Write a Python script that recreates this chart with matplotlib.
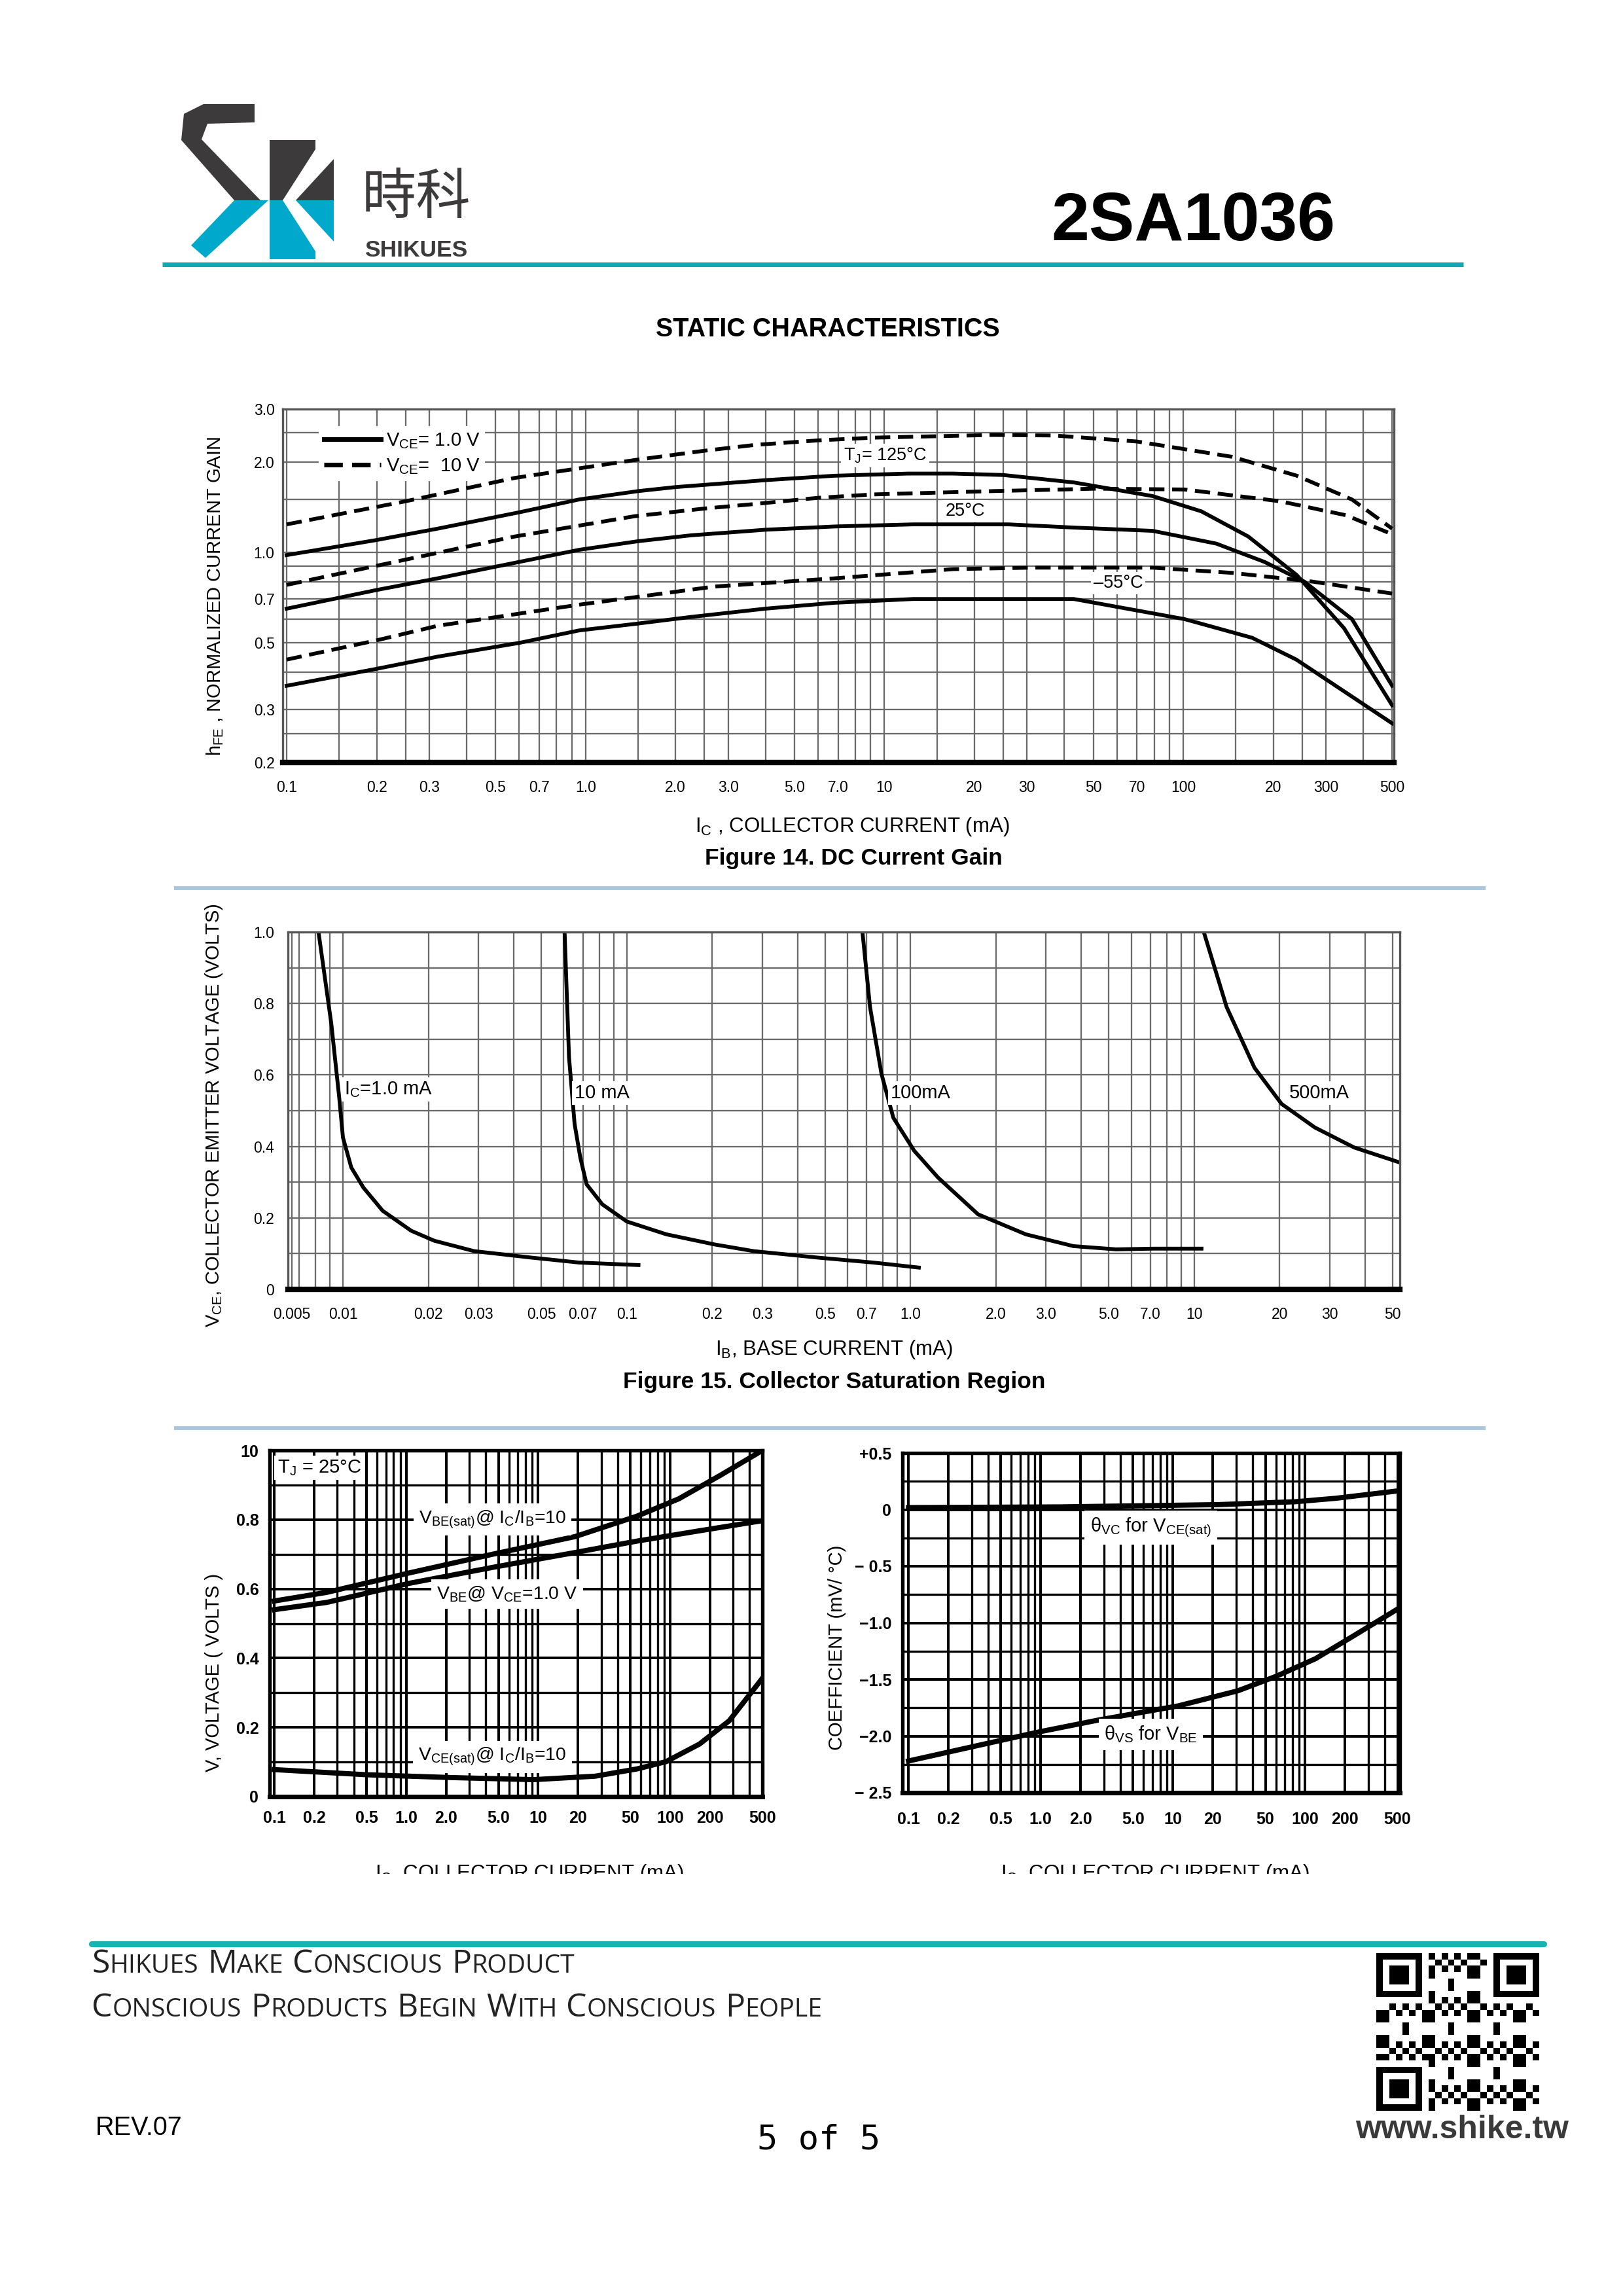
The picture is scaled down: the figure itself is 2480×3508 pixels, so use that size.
import numpy as np
import matplotlib
matplotlib.use("Agg")
import matplotlib.pyplot as plt
from matplotlib.lines import Line2D
from matplotlib.patches import Polygon, Rectangle
from matplotlib.ticker import FixedLocator, FixedFormatter, LogLocator, NullFormatter
from matplotlib.offsetbox import TextArea, HPacker, AnchoredOffsetbox

plt.rcParams['font.family'] = ['Liberation Sans', 'DejaVu Sans']
plt.rcParams['mathtext.fontset'] = 'custom'
plt.rcParams['mathtext.rm'] = 'Liberation Sans'
plt.rcParams['mathtext.it'] = 'Liberation Sans:italic'
plt.rcParams['mathtext.bf'] = 'Liberation Sans:bold'
plt.rcParams['mathtext.default'] = 'regular'

W, H = 2480, 3508

# ---- Figure 14: DC current gain (IC mA, normalized hFE)
s125_x = [0.1, 0.2, 0.32, 0.6, 0.95, 1.5, 2.0, 4.0, 6.8, 12, 17, 25, 43, 79, 115, 165, 240, 345, 500]
s125_y = [0.98, 1.10, 1.20, 1.36, 1.50, 1.60, 1.65, 1.74, 1.80, 1.83, 1.83, 1.81, 1.71, 1.54, 1.37, 1.13,
          0.84, 0.56, 0.31]
d125_x = [0.1, 0.25, 0.58, 1.46, 2.5, 3.7, 6.0, 9.2, 23, 37, 70, 146, 240, 367, 500]
d125_y = [1.24, 1.48, 1.77, 2.03, 2.18, 2.28, 2.36, 2.41, 2.46, 2.45, 2.34, 2.08, 1.80, 1.50, 1.20]
s25_x = [0.1, 0.2, 0.32, 0.6, 0.95, 1.5, 2.25, 4.0, 6.8, 12.5, 26, 43, 79, 129, 187, 254, 367, 500]
s25_y = [0.65, 0.75, 0.82, 0.93, 1.02, 1.09, 1.14, 1.19, 1.22, 1.24, 1.24, 1.21, 1.18, 1.07, 0.93, 0.80,
         0.60, 0.36]
d25_x = [0.1, 0.23, 0.58, 1.46, 2.5, 3.7, 6.0, 9.2, 23, 51, 101, 211, 350, 500]
d25_y = [0.78, 0.93, 1.13, 1.32, 1.40, 1.45, 1.52, 1.56, 1.60, 1.63, 1.62, 1.48, 1.33, 1.15]
s55_x = [0.1, 0.2, 0.32, 0.6, 0.95, 1.5, 2.25, 4.0, 6.8, 12.5, 43, 101, 170, 239, 500]
s55_y = [0.36, 0.41, 0.45, 0.50, 0.55, 0.58, 0.61, 0.65, 0.68, 0.70, 0.70, 0.60, 0.52, 0.44, 0.27]
d55_x = [0.1, 0.2, 0.32, 0.95, 2.7, 6.8, 17, 31, 79, 146, 270, 500]
d55_y = [0.44, 0.51, 0.57, 0.67, 0.77, 0.82, 0.88, 0.89, 0.89, 0.855, 0.80, 0.73]
f14_xticks = [0.1, 0.2, 0.3, 0.5, 0.7, 1.0, 2.0, 3.0, 5.0, 7.0, 10, 20, 30, 50, 70, 100, 200, 300, 500]
f14_xlabels = ['0.1', '0.2', '0.3', '0.5', '0.7', '1.0', '2.0', '3.0', '5.0', '7.0', '10', '20', '30',
               '50', '70', '100', '20', '300', '500']
f14_yticks = [0.2, 0.3, 0.5, 0.7, 1.0, 2.0, 3.0]
f14_ylabels = ['0.2', '0.3', '0.5', '0.7', '1.0', '2.0', '3.0']

# ---- Figure 15: collector saturation region (IB mA, VCE volts)
ic1_x = [0.0082, 0.0091, 0.0097, 0.0100, 0.0107, 0.0118, 0.0138, 0.0174, 0.021, 0.029, 0.046, 0.068, 0.11]
ic1_y = [1.0, 0.743, 0.537, 0.425, 0.341, 0.285, 0.22, 0.164, 0.136, 0.107, 0.089, 0.075, 0.068]
ic10_x = [0.0604, 0.0626, 0.0655, 0.0686, 0.0722, 0.082, 0.10, 0.138, 0.203, 0.28, 0.47, 0.74, 1.07]
ic10_y = [1.0, 0.65, 0.463, 0.369, 0.294, 0.238, 0.19, 0.154, 0.126, 0.107, 0.089, 0.075, 0.061]
ic100_x = [0.677, 0.72, 0.79, 0.87, 1.03, 1.25, 1.73, 2.55, 3.75, 5.3, 7.2, 10.6]
ic100_y = [1.0, 0.79, 0.603, 0.48, 0.388, 0.313, 0.21, 0.154, 0.121, 0.112, 0.114, 0.114]
ic500_x = [10.8, 13, 16.3, 20.3, 26.6, 36.6, 53]
ic500_y = [1.0, 0.79, 0.62, 0.519, 0.453, 0.397, 0.355]
f15_xticks = [0.0066, 0.01, 0.02, 0.03, 0.05, 0.07, 0.1, 0.2, 0.3, 0.5, 0.7, 1.0, 2.0, 3.0, 5.0, 7.0,
              10, 20, 30, 50]
f15_xlabels = ['0.005', '0.01', '0.02', '0.03', '0.05', '0.07', '0.1', '0.2', '0.3', '0.5', '0.7', '1.0',
               '2.0', '3.0', '5.0', '7.0', '10', '20', '30', '50']
f15_yticks = [0, 0.2, 0.4, 0.6, 0.8, 1.0]
f15_ylabels = ['0', '0.2', '0.4', '0.6', '0.8', '1.0']

# ---- Figure 16: "on" voltages (IC mA, V volts)
vbesat_x = [0.1, 0.25, 1.05, 4.5, 19, 56, 116, 240, 500]
vbesat_y = [0.565, 0.59, 0.646, 0.70, 0.751, 0.81, 0.86, 0.928, 1.0]
vbe_x = [0.1, 0.25, 1.05, 4.5, 19, 56, 168, 500]
vbe_y = [0.54, 0.561, 0.616, 0.662, 0.705, 0.738, 0.768, 0.797]
vcesat_x = [0.1, 0.51, 2.2, 9.2, 27, 56, 93, 167, 280, 500]
vcesat_y = [0.078, 0.063, 0.055, 0.049, 0.059, 0.08, 0.101, 0.152, 0.219, 0.342]
f16_yticks = [0, 0.2, 0.4, 0.6, 0.8, 1.0]
f16_ylabels = ['0', '0.2', '0.4', '0.6', '0.8', '10']

# ---- Figure 17: temperature coefficients (IC mA, mV/°C)
tvc_x = [0.1, 1.4, 22, 85, 170, 500]
tvc_y = [0.018, 0.024, 0.044, 0.07, 0.10, 0.165]
tvs_x = [0.1, 0.36, 1.0, 2.8, 11, 31, 61, 120, 236, 500]
tvs_y = [-2.22, -2.075, -1.96, -1.856, -1.733, -1.60, -1.47, -1.316, -1.11, -0.878]
f17_yticks = [0.5, 0, -0.5, -1.0, -1.5, -2.0, -2.5]
f17_ylabels = ['+0.5', '0', '\u2212 0.5', '\u22121.0', '\u22121.5', '\u22122.0', '\u2212 2.5']

bot_xticks = [0.1, 0.2, 0.5, 1.0, 2.0, 5.0, 10, 20, 50, 100, 200, 500]
bot_xlabels = ['0.1', '0.2', '0.5', '1.0', '2.0', '5.0', '10', '20', '50', '100', '200', '500']


def fx(px):
    return px / W


def fy(py):
    return 1 - py / H


def box(l, t, r, b):
    return [fx(l), fy(b), (r - l) / W, (b - t) / H]


def hline(x0, x1, y, color, lw, cap='butt'):
    fig.add_artist(Line2D([fx(x0), fx(x1)], [fy(y), fy(y)], transform=fig.transFigure,
                          color=color, lw=lw, solid_capstyle=cap))


def ftext(px, py, s, **kw):
    fig.text(fx(px), fy(py), s, ha=kw.pop('ha', 'center'), va=kw.pop('va', 'center'), **kw)


def poly(pts, color):
    fig.add_artist(Polygon([(fx(a), fy(b)) for a, b in pts], closed=True, transform=fig.transFigure,
                           facecolor=color, edgecolor='none'))


def small_caps(px, py, s, big=12.0, small=9.4):
    words = []
    for word in s.split(' '):
        parts = []
        for ch in word:
            up = ch.isupper()
            if parts and parts[-1][1] == up:
                parts[-1][0] += ch
            else:
                parts.append([ch, up])
        words.append(HPacker(children=[TextArea(t.upper(), textprops=dict(
            size=big if up else small, family='Open Sans', color='#222222')) for t, up in parts],
            align='baseline', pad=0, sep=0))
    pack = HPacker(children=words, align='baseline', pad=0, sep=3.4)
    fig.add_artist(AnchoredOffsetbox(loc='center left', child=pack, bbox_to_anchor=(fx(px), fy(py)),
                                     bbox_transform=fig.transFigure, frameon=False, pad=0, borderpad=0))


fig = plt.figure(figsize=(W / 300, H / 300), dpi=300)

# ---- header
dark, cyan = '#3c3a3b', '#00a8cc'
poly([(311, 159), (389, 159), (389, 187), (317, 189), (308, 213), (398, 306), (358, 306), (277, 214),
      (281, 174)], dark)
poly([(358, 306), (410, 306), (314, 394), (292, 375)], cyan)
poly([(412, 214), (482, 214), (482, 228), (432, 306), (412, 306)], dark)
poly([(510, 243), (510, 306), (452, 306)], dark)
poly([(412, 306), (432, 306), (482, 384), (482, 396), (412, 396)], cyan)
poly([(452, 306), (510, 306), (510, 369)], cyan)
ftext(636, 302, '時科', size=20, color=dark, family=['Noto Sans CJK TC', 'DejaVu Sans'])
ftext(636, 383, 'SHIKUES', size=8.5, weight='bold', color=dark)
ftext(1823, 340, '2SA1036', size=25, weight='bold', color='black')
hline(248, 2236, 404, '#15a6b3', 1.7)
ftext(1265, 503, 'STATIC CHARACTERISTICS', size=9.5, weight='bold')

# separators between figures
hline(266, 2270, 1357, '#a8c6dc', 1.4)
hline(266, 2270, 2182, '#a8c6dc', 1.4)


def light_frame(ax):
    for side in ['left', 'top', 'right']:
        ax.spines[side].set_color('#555555')
        ax.spines[side].set_linewidth(0.8)
    ax.spines['bottom'].set_color('black')
    ax.spines['bottom'].set_linewidth(2.0)
    ax.tick_params(which='both', length=0, labelsize=5.5)
    ax.grid(which='both', color='#6a6a6a', lw=0.55)
    ax.set_axisbelow(True)


def heavy_frame(ax):
    for side in ax.spines:
        ax.spines[side].set_color('black')
        ax.spines[side].set_linewidth(1.3)
    ax.spines['bottom'].set_linewidth(1.7)
    ax.tick_params(which='both', length=0, labelsize=6)
    for lab in ax.get_xticklabels() + ax.get_yticklabels():
        lab.set_fontweight('bold')
    ax.grid(which='major', color='black', lw=0.95)
    ax.grid(which='minor', color='black', lw=0.8)
    ax.set_axisbelow(True)


tbox = dict(fc='white', ec='none', pad=1.0)

# ---- Figure 14
ax = fig.add_axes(box(432, 625, 2130, 1165))
ax.set_xscale('log')
ax.set_yscale('log')
ax.set_xlim(0.097, 507)
ax.set_ylim(0.2, 3.0)
ax.xaxis.set_major_locator(FixedLocator(f14_xticks))
ax.xaxis.set_major_formatter(FixedFormatter(f14_xlabels))
ax.xaxis.set_minor_locator(LogLocator(subs=[1.5, 2, 2.5, 3, 4, 5, 6, 7, 8, 9], numticks=20))
ax.xaxis.set_minor_formatter(NullFormatter())
ax.yaxis.set_major_locator(FixedLocator(f14_yticks))
ax.yaxis.set_major_formatter(FixedFormatter(f14_ylabels))
ax.yaxis.set_minor_locator(FixedLocator([0.25, 0.4, 0.6, 0.8, 0.9, 1.5, 2.5]))
ax.yaxis.set_minor_formatter(NullFormatter())
light_frame(ax)
ax.tick_params(axis='x', pad=6.5)
ax.tick_params(axis='y', pad=3)
dash = (4, 2)
ax.plot(s125_x, s125_y, color='black', lw=1.4, label=r'V$_{\rm CE}$= 1.0 V')
ax.plot(d125_x, d125_y, color='black', lw=1.4, dashes=dash, label=r'V$_{\rm CE}$=  10 V')
ax.plot(s25_x, s25_y, color='black', lw=1.4)
ax.plot(d25_x, d25_y, color='black', lw=1.4, dashes=dash)
ax.plot(s55_x, s55_y, color='black', lw=1.4)
ax.plot(d55_x, d55_y, color='black', lw=1.4, dashes=dash)
leg = ax.legend(loc='upper left', bbox_to_anchor=(0.025, 0.975), fontsize=7, frameon=True,
                fancybox=False, edgecolor='white', facecolor='white', framealpha=1,
                handlelength=3.0, handletextpad=0.25, labelspacing=0.35, borderpad=0.2)
for h in leg.get_lines():
    h.set_linewidth(1.7)
ax.text(7.3, 2.1, r'T$_{\rm J}$= 125°C', fontsize=6.5, ha='left', va='center', bbox=tbox)
ax.text(16, 1.37, '25°C', fontsize=6.5, ha='left', va='center', bbox=tbox)
ax.text(50, 0.79, '\u201355°C', fontsize=6.5, ha='left', va='center', bbox=tbox)
ftext(329, 911, r'h$_{\rm FE}$ , NORMALIZED CURRENT GAIN', size=7, rotation=90)
ftext(1302, 1263, r'I$_{\rm C}$ , COLLECTOR CURRENT (mA)', size=7.5)
ftext(1304, 1311, 'Figure 14. DC Current Gain', size=8.5, weight='bold')

# ---- Figure 15
ax = fig.add_axes(box(440, 1424, 2139, 1970))
ax.set_xscale('log')
ax.set_xlim(0.0064, 53)
ax.set_ylim(0, 1.0)
ax.xaxis.set_major_locator(FixedLocator(f15_xticks))
ax.xaxis.set_major_formatter(FixedFormatter(f15_xlabels))
ax.xaxis.set_minor_locator(LogLocator(subs=np.arange(2, 10), numticks=20))
ax.xaxis.set_minor_formatter(NullFormatter())
ax.yaxis.set_major_locator(FixedLocator(f15_yticks))
ax.yaxis.set_major_formatter(FixedFormatter(f15_ylabels))
ax.yaxis.set_minor_locator(FixedLocator(np.arange(0.1, 1.0, 0.2)))
light_frame(ax)
ax.tick_params(axis='x', pad=6.5)
ax.tick_params(axis='y', pad=5)
for xs, ys in [(ic1_x, ic1_y), (ic10_x, ic10_y), (ic100_x, ic100_y), (ic500_x, ic500_y)]:
    ax.plot(xs, ys, color='black', lw=1.4, clip_on=True)
ax.text(0.0101, 0.56, r'I$_{\rm C}$=1.0 mA', fontsize=7, ha='left', va='center', bbox=tbox)
ax.text(0.0655, 0.55, '10 mA', fontsize=7, ha='left', va='center', bbox=tbox)
ax.text(0.85, 0.55, '100mA', fontsize=7, ha='left', va='center', bbox=tbox)
ax.text(21.6, 0.55, '500mA', fontsize=7, ha='left', va='center', bbox=tbox)
ftext(327, 1704, r'V$_{\rm CE}$, COLLECTOR EMITTER VOLTAGE (VOLTS)', size=7, rotation=90)
ftext(1275, 2062, r'I$_{\rm B}$, BASE CURRENT (mA)', size=7.5)
ftext(1275, 2111, 'Figure 15. Collector Saturation Region', size=8.5, weight='bold')

# ---- Figure 16
ax = fig.add_axes(box(412, 2216, 1165, 2745))
ax.set_xscale('log')
ax.set_xlim(0.092, 500)
ax.set_ylim(0, 1.0)
ax.xaxis.set_major_locator(FixedLocator(bot_xticks))
ax.xaxis.set_major_formatter(FixedFormatter(bot_xlabels))
ax.xaxis.set_minor_locator(LogLocator(subs=np.arange(1, 10), numticks=20))
ax.xaxis.set_minor_formatter(NullFormatter())
ax.yaxis.set_major_locator(FixedLocator(f16_yticks))
ax.yaxis.set_major_formatter(FixedFormatter(f16_ylabels))
ax.yaxis.set_minor_locator(FixedLocator(np.arange(0.1, 1.0, 0.2)))
heavy_frame(ax)
ax.tick_params(axis='x', pad=5)
ax.tick_params(axis='y', pad=4)
ax.plot(vbesat_x, vbesat_y, color='black', lw=1.9)
ax.plot(vbe_x, vbe_y, color='black', lw=1.9)
ax.plot(vcesat_x, vcesat_y, color='black', lw=1.9)
wbox = dict(fc='white', ec='none', pad=2.0)
ax.text(0.105, 0.95, r'T$_{\rm J}$ = 25°C', fontsize=7, ha='left', va='center', bbox=tbox)
ax.text(4.5, 0.80, r'V$_{\rm BE(sat)}$@ I$_{\rm C}$/I$_{\rm B}$=10', fontsize=6.8, ha='center',
        va='center', bbox=wbox)
ax.text(5.8, 0.585, r'V$_{\rm BE}$@ V$_{\rm CE}$=1.0 V', fontsize=6.8, ha='center', va='center',
        bbox=wbox)
ax.text(4.5, 0.115, r'V$_{\rm CE(sat)}$@ I$_{\rm C}$/I$_{\rm B}$=10', fontsize=6.8, ha='center',
        va='center', bbox=wbox)
ftext(327, 2555, 'V, VOLTAGE ( VOLTS )', size=7, rotation=90)

# ---- Figure 17
ax = fig.add_axes(box(1379, 2220, 2139, 2739))
ax.set_xscale('log')
ax.set_xlim(0.09, 520)
ax.set_ylim(-2.5, 0.5)
ax.xaxis.set_major_locator(FixedLocator(bot_xticks))
ax.xaxis.set_major_formatter(FixedFormatter(bot_xlabels))
ax.xaxis.set_minor_locator(LogLocator(subs=np.arange(1, 10), numticks=20))
ax.xaxis.set_minor_formatter(NullFormatter())
ax.yaxis.set_major_locator(FixedLocator(f17_yticks))
ax.yaxis.set_major_formatter(FixedFormatter(f17_ylabels))
ax.yaxis.set_minor_locator(FixedLocator(np.arange(-2.25, 0.5, 0.5)))
heavy_frame(ax)
ax.tick_params(axis='x', pad=7)
ax.tick_params(axis='y', pad=4)
ax.plot(tvc_x, tvc_y, color='black', lw=1.9)
ax.plot(tvs_x, tvs_y, color='black', lw=1.9)
ax.text(6.8, -0.16, r'θ$_{\rm VC}$ for V$_{\rm CE(sat)}$', fontsize=7, ha='center', va='center', bbox=wbox)
ax.text(6.8, -1.985, r'θ$_{\rm VS}$ for V$_{\rm BE}$', fontsize=7, ha='center', va='center', bbox=wbox)
ftext(1279, 2517, 'COEFFICIENT (mV/ °C)', size=7, rotation=90)

# clipped axis titles below the two lower charts
ftext(809, 2871, r'I$_{\rm C}$, COLLECTOR CURRENT (mA)', size=7.5, va='baseline')
ftext(1765, 2871, r'I$_{\rm C}$, COLLECTOR CURRENT (mA)', size=7.5, va='baseline')
fig.add_artist(Rectangle((fx(200), fy(2945)), (2300 - 200) / W, (2945 - 2863) / H,
                         transform=fig.transFigure, facecolor='white', edgecolor='none', zorder=10))

# ---- footer
hline(140, 2359, 2970, '#1ab3b3', 2.2, cap='round')
small_caps(140, 3001, 'Shikues Make Conscious Product')
small_caps(140, 3068, 'Conscious Products Begin With Conscious People')
ftext(146, 3251, 'REV.07', size=9.5, ha='left')
ftext(1251, 3270, '5 of 5', size=12.5, family='DejaVu Sans Mono')
ftext(2234, 3254, 'www.shike.tw', size=12, weight='bold', color='#3a3a3a')

qr = np.zeros((25, 25), dtype=int)
ii, jj = np.mgrid[0:25, 0:25]
qr[((ii * ii * 3 + jj * jj * 5 + ii * jj * 7 + ii + 2 * jj) % 7) < 3] = 1
for r0, c0 in [(0, 0), (0, 18), (18, 0)]:
    qr[max(r0 - 1, 0):r0 + 8, max(c0 - 1, 0):c0 + 8] = 0
    qr[r0:r0 + 7, c0:c0 + 7] = 1
    qr[r0 + 1:r0 + 6, c0 + 1:c0 + 6] = 0
    qr[r0 + 2:r0 + 5, c0 + 2:c0 + 5] = 1
qax = fig.add_axes(box(2103, 2984, 2352, 3225))
qax.imshow(qr, cmap='gray_r', interpolation='nearest', aspect='auto')
qax.axis('off')

fig.savefig('out.png', dpi=300)
